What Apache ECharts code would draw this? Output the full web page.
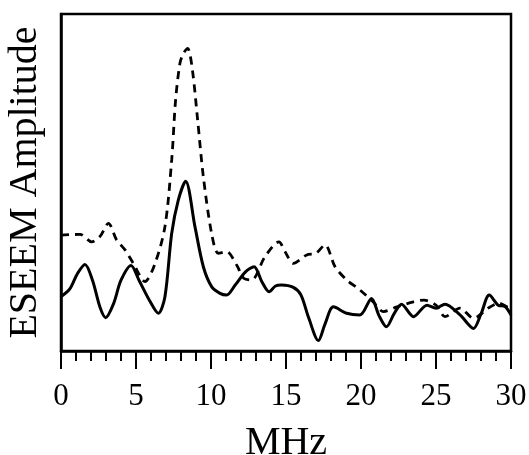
<!DOCTYPE html>
<html>
<head>
<meta charset="utf-8">
<script src="https://cdn.jsdelivr.net/npm/echarts@6/dist/echarts.min.js"></script>
<style>
html,body{margin:0;padding:0;background:#fff;}
#chart{width:529px;height:455px;}
</style>
</head>
<body>
<div id="chart"></div>
<script>
// Frequency (MHz) / amplitude (arbitrary units) pairs
const solidFreq = [0,0.6,1.1,1.6,2.1,2.6,2.98,3.5,4.0,4.67,5.2,5.9,6.49,6.93,7.38,7.82,8.31,8.93,9.49,10.04,10.6,11.04,11.6,12.3,12.87,13.4,13.87,14.3,14.7,15.49,16.0,16.5,17.16,17.6,18.16,19.04,19.93,20.7,21.2,21.7,22.2,22.7,23.5,24.4,25.0,25.6,26.6,27.5,28.0,28.55,29.15,29.6,30];
const solidAmp  = [16.1,18.5,23,25.7,21,13,9.9,14,21,25.4,21,15,11.2,16.1,34.9,44.8,50.4,36.9,25.0,19.1,17.1,16.6,19.5,23.5,25.0,20.5,17.6,19.3,19.6,18.9,16.6,10,3.1,8,13.1,11.2,10.7,15.6,10.5,7.2,11,13.9,10.2,13.6,12.7,13.9,10.7,6.7,11,16.6,13.6,13.2,10.7];
const dashFreq  = [0,1.27,2.04,2.6,3.16,3.7,4.27,4.82,5.6,6.27,6.93,7.38,7.64,7.93,8.15,8.44,8.76,9.11,9.49,10.04,10.49,11.04,11.71,12.2,12.71,13.6,14.53,14.93,15.49,16.38,17.0,17.6,18.27,19.04,19.93,20.8,21.5,22.4,23.5,24.2,25.0,25.6,26.6,27.5,28.5,29.2,30];
const dashAmp   = [34.4,34.6,32.4,34,37.9,33,30.0,26.0,20.6,26.0,36.9,56.7,74.5,85.4,88.2,89.8,83.4,68.5,51.7,34.9,29.0,29.5,25.5,21.5,21.1,28.0,32.4,29.5,26.0,28.5,29,31.5,25.0,21.1,18.1,14.6,11.7,13.1,14.6,15.1,13.6,10.2,12.7,9.7,12.8,14.2,12.2];
const xTicks = [0,5,10,15,20,25,30];

const pair = (xs, ys) => xs.map((x, i) => [x, ys[i]]);
const FONT = 'Liberation Serif';

const chart = echarts.init(document.getElementById('chart'), null, {renderer: 'canvas'});
chart.setOption({
  animation: false,
  backgroundColor: '#fff',
  grid: {left: 61, top: 14, right: 18, bottom: 104, containLabel: false, outerBoundsMode: 'none',
         show: true, borderColor: '#000', borderWidth: 2.5, backgroundColor: 'transparent'},
  xAxis: {
    type: 'value', min: xTicks[0], max: xTicks[xTicks.length - 1], interval: 5,
    name: 'MHz', nameLocation: 'middle', nameGap: 72,
    nameTextStyle: {fontFamily: FONT, fontSize: 40, color: '#000'},
    axisLine: {show: true, lineStyle: {color: '#000', width: 2.5}},
    axisTick: {show: true, inside: false, length: 18, lineStyle: {color: '#000', width: 2}},
    minorTick: {show: true, splitNumber: 5, length: 10, lineStyle: {color: '#000', width: 2}},
    axisLabel: {show: true, margin: 30, fontFamily: FONT, fontSize: 31, color: '#000'},
    splitLine: {show: false}, minorSplitLine: {show: false}
  },
  yAxis: {
    type: 'value', min: 0, max: 100,
    name: 'ESEEM Amplitude', nameLocation: 'middle', nameGap: 16, nameRotate: 90,
    nameTextStyle: {fontFamily: FONT, fontSize: 40, color: '#000'},
    axisLine: {show: true, lineStyle: {color: '#000', width: 2.5}},
    axisTick: {show: false}, axisLabel: {show: false}, splitLine: {show: false}
  },
  series: [
    {type: 'line', data: pair(solidFreq, solidAmp), smooth: 0.3, symbol: 'none',
     lineStyle: {color: '#000', width: 3, type: 'solid'}},
    {type: 'line', data: pair(dashFreq, dashAmp), smooth: 0.3, symbol: 'none',
     lineStyle: {color: '#000', width: 2.8, type: [8, 6]}}
  ]
});
</script>
</body>
</html>
